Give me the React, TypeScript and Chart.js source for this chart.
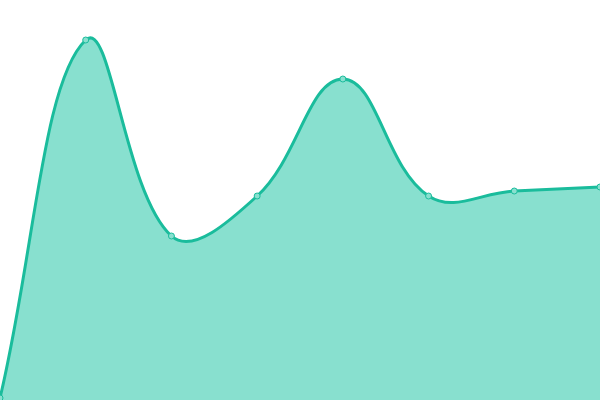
import React, { useEffect, useRef } from "react";
import { Chart, registerables } from "chart.js";

Chart.register(...registerables);

const labels = ["1", "2", "3", "4", "5", "6", "7", "8"];
const values = [2, 360, 164, 204, 321, 204, 209, 213];

export default function App() {
  const ref = useRef<HTMLCanvasElement>(null);
  useEffect(() => {
    if (!ref.current) return;
    const chart = new Chart(ref.current, {
      type: "line",
      data: {
        labels,
        datasets: [
          {
            data: values,
            fill: true,
            backgroundColor: "#88e0cf",
            borderColor: "#1abc9c",
            borderWidth: 3,
            tension: 0.4,
            pointRadius: 3,
            pointBorderWidth: 1,
            pointBackgroundColor: "#88e0cf",
            pointBorderColor: "#1abc9c",
          },
        ],
      },
      options: {
        animation: false,
        responsive: false,
        maintainAspectRatio: false,
        layout: { padding: 0, autoPadding: false },
        plugins: { legend: { display: false }, tooltip: { enabled: false } },
        scales: {
          x: { display: false },
          y: { display: false, min: 0, max: 400 },
        },
      },
    });
    return () => chart.destroy();
  }, []);
  return (
    <div style={{ position: "fixed", left: 0, top: 0, width: 600, height: 400, background: "#fff" }}>
      <canvas ref={ref} width={600} height={400} style={{ width: 600, height: 400 }} />
    </div>
  );
}
